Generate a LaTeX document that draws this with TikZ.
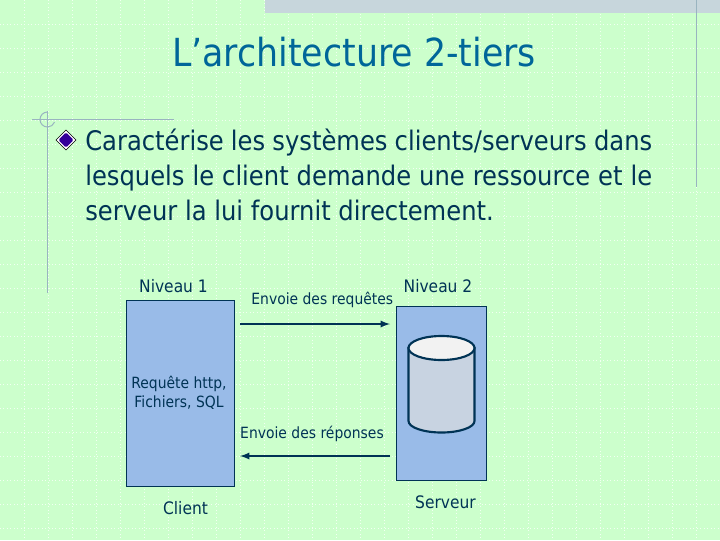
\documentclass[tikz,border=0pt]{standalone}
\usepackage{fontspec}
\setmainfont[FakeStretch=0.9]{DejaVu Sans}
\usetikzlibrary{positioning,arrows,shapes.geometric}
\definecolor{slidebg}{HTML}{CCFFCC}
\definecolor{titleblue}{HTML}{006699}
\definecolor{inkblue}{HTML}{003355}
\definecolor{boxblue}{HTML}{99BBE8}
\definecolor{guidegrey}{HTML}{99B4C0}
\definecolor{bulletcolor}{HTML}{330099}
\tikzset{
	gridline/.style={white!75!slidebg,line width=0.6pt,dotted},
	guide/.style={guidegrey,line width=0.75pt},
	tier/.style={draw=inkblue,fill=boxblue,line width=0.6pt,inner sep=0pt},
	caption/.style={inkblue,font=\fontsize{12.9}{15}\selectfont,inner sep=0pt},
	note/.style={inkblue,font=\fontsize{11.6}{14.3}\selectfont,inner sep=0pt,align=center},
	flow/.style={-latex,inkblue,line width=1.4pt},
	drum/.style={draw=inkblue,line width=1.6pt}
}
\begin{document}
\begin{tikzpicture}[x=0.75pt,y=-0.75pt]
	\useasboundingbox[fill=slidebg] (0,0) rectangle (720,540);
	\foreach \gx in {24,48,...,696}
		\draw[gridline] (\gx,0) -- (\gx,540);
	\foreach \gy in {24,48,...,528}
		\draw[gridline] (0,\gy) -- (720,\gy);
	\fill[guidegrey!55!white] (265,0) rectangle (720,13);
	\draw[guide] (696.5,0) -- (696.5,187);
	\draw[guide] (47.5,111) -- (47.5,293);
	\draw[guide] (32,119.5) -- (174,119.5);
	\draw[guide] (47.5,112) arc[start angle=-90,end angle=-340,radius=7.5];
	\node[titleblue,font=\fontsize{29}{34}\selectfont,inner sep=0pt] (title) at (354,52) {L’architecture 2-tiers};
	\node[diamond,draw=black,fill=white,line width=0.5pt,minimum size=15.2pt,inner sep=0pt] (bullet) at (66,140) {};
	\node[diamond,fill=bulletcolor,rounded corners=1pt,minimum size=11.5pt,inner sep=0pt] (bulletcore) at (bullet) {};
	\node[inkblue,font=\fontsize{20.2}{26}\selectfont,text width=425.25pt,align=justify,inner sep=0pt,anchor=north west] (body) at (85,129)
		{Caractérise les systèmes clients/serveurs dans\linebreak lesquels le client demande une ressource et le\linebreak serveur la lui fournit directement.};
	\node[tier,minimum width=81pt,minimum height=139.5pt] (client) at (180.35,393.5) {};
	\node[tier,minimum width=67.5pt,minimum height=130.5pt] (server) at (441.35,393.35) {};
	\draw[drum,fill=gray!35!boxblue!50!white] (408.5,348) -- (408.5,421) arc[start angle=180,end angle=0,x radius=33,y radius=11.5] -- (474.5,348) -- cycle;
	\draw[drum,fill=gray!10!white] (441.5,348) ellipse (33 and 12);
	\node[caption] (level1) at (173.5,286) {Niveau 1};
	\node[caption] (level2) at (438,286) {Niveau 2};
	\node[caption] (clientname) at (185.5,508) {Client};
	\node[caption] (servername) at (445.5,502) {Serveur};
	\node[note] (protocols) at (179,393) {Requête http,\\Fichiers, SQL};
	\node[note] (reqlabel) at (322.3,300) {Envoie des requêtes};
	\node[note] (replabel) at (312,434) {Envoie des réponses};
	\coordinate (reqstart) at (240,324);
	\coordinate (reqend) at (390,324);
	\coordinate (repstart) at (390,456);
	\coordinate (repend) at (240,456);
	\draw[flow] (reqstart) -- (reqend);
	\draw[flow] (repstart) -- (repend);
\end{tikzpicture}
\end{document}
